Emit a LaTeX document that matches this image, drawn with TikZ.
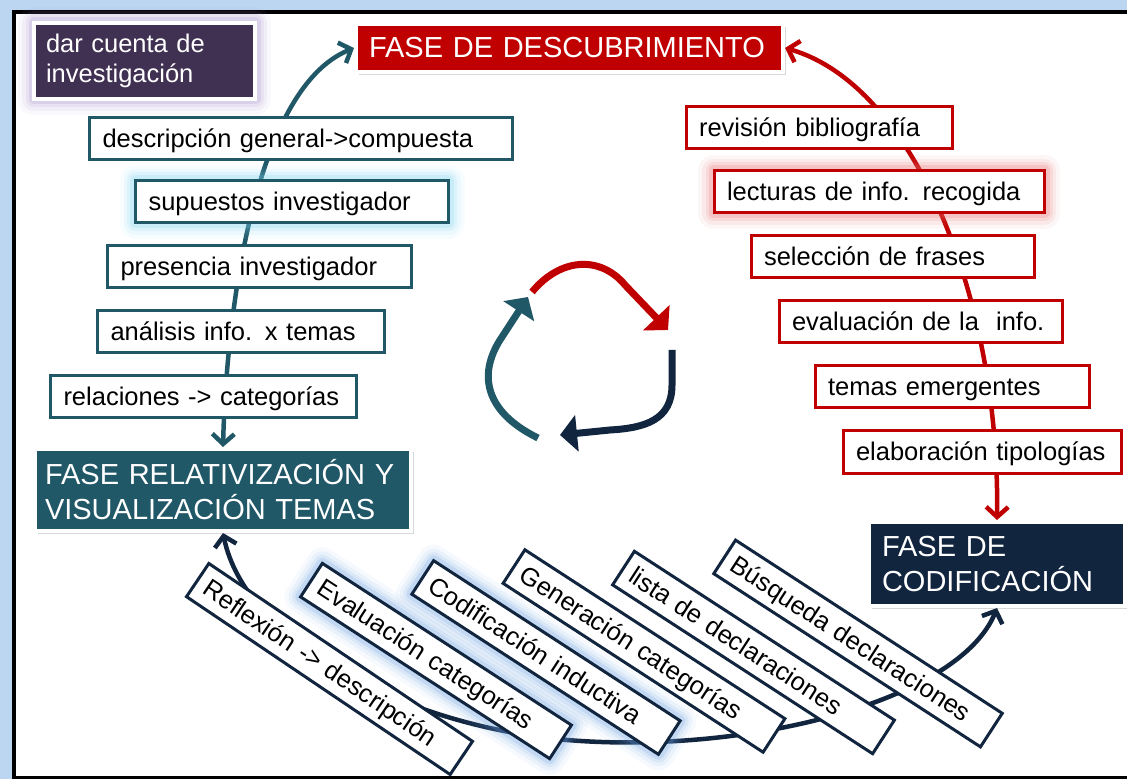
\documentclass[tikz,border=0pt]{standalone}
\usepackage{fontspec}
\setmainfont{Liberation Sans}
\usetikzlibrary{positioning}
\usetikzlibrary{arrows.meta}
\usetikzlibrary{shadows}
\usetikzlibrary{backgrounds}

\definecolor{tealc}{RGB}{33,88,104}
\definecolor{redc}{RGB}{192,0,0}
\definecolor{navyc}{RGB}{17,37,63}
\definecolor{purplec}{RGB}{64,49,82}
\definecolor{frameblue}{RGB}{188,214,242}
\definecolor{glowcyan}{RGB}{120,215,245}
\definecolor{glowred}{RGB}{235,110,110}
\definecolor{glowpurple}{RGB}{165,140,205}
\definecolor{glowblue}{RGB}{110,165,230}

\begin{document}
\begin{tikzpicture}[x=0.5pt,y=-0.5pt,
            phase/.style={draw=white,line width=2pt,text=white,anchor=north west,align=left,
                font=\fontsize{14.5}{17.5}\selectfont},
            lifted/.style={drop shadow={shadow xshift=1.5pt,shadow yshift=-1.5pt,opacity=0.3}},
            lbox/.style={draw=tealc,fill=white,line width=1.5pt,anchor=north west,minimum height=21pt,
                inner xsep=6.5pt,text width=#1,align=left,font=\fontsize{12.75}{15}\selectfont,
                text height=11pt,text depth=2.2pt},
            rbox/.style={lbox=#1,draw=redc},
            tbox/.style={draw=navyc,fill=white,line width=1.5pt,minimum height=20pt,inner xsep=5pt,
                text width=#1,align=left,rotate=-33,font=\fontsize{12.75}{15}\selectfont,
                text height=11pt,text depth=2.2pt},
            glow/.style={preaction={draw=#1,draw opacity=0.06,line width=16pt,line join=round},
                preaction={draw=#1,draw opacity=0.09,line width=12pt,line join=round},
                preaction={draw=#1,draw opacity=0.13,line width=8.5pt,line join=round},
                preaction={draw=#1,draw opacity=0.2,line width=5.5pt,line join=round}},
            cyc/.style={line width=2.25pt,{Straight Barb[length=5pt,width=11pt]}-{Straight Barb[length=5pt,width=11pt]}},
            turn/.style={line width=3.5pt,-{Triangle[length=8.5pt,width=18pt]}}]
            \useasboundingbox (0,0) rectangle (1127,779);

            % fases
            \node[phase,fill=purplec,glow=glowpurple,inner xsep=6pt,text width=98.5pt,minimum height=38pt,
                font=\fontsize{12.75}{15}\selectfont] (dar) at (32,21) {dar cuenta de\\investigación};
            \node[phase,lifted,fill=redc,inner xsep=6.5pt,text width=200.5pt,minimum height=24pt] (desc) at (354,22) {FASE DE DESCUBRIMIENTO};
            \node[phase,lifted,fill=tealc,inner xsep=5pt,text width=178pt,minimum height=41pt] (rel) at (33,447) {FASE RELATIVIZACIÓN Y\\VISUALIZACIÓN TEMAS};
            \node[phase,lifted,fill=navyc,inner xsep=6.5pt,text width=115pt,minimum height=42pt] (cod) at (867,520) {FASE DE\\CODIFICACIÓN};

            % lado izquierdo
            \node[lbox=198.5pt] (a1) at (88,116) {descripción general->compuesta};
            \node[lbox=143.5pt,glow=glowcyan] (a2) at (134,179.5) {supuestos investigador};
            \node[lbox=139pt] (a3) at (106,244.5) {presencia investigador};
            \node[lbox=130.5pt] (a4) at (96,309.5) {análisis info. x temas};
            \node[lbox=140pt] (a5) at (49,374) {relaciones -> categorías};

            % lado derecho
            \node[rbox=120pt] (b1) at (684.5,105.5) {revisión bibliografía};
            \node[rbox=152pt,glow=glowred] (b2) at (712.5,169.5) {lecturas de info. recogida};
            \node[rbox=128.5pt] (b3) at (749.5,234.5) {selección de frases};
            \node[rbox=128.5pt] (b4) at (777.5,299.5) {evaluación de la\ \ info.};
            \node[rbox=124pt] (b5) at (813.5,364.5) {temas emergentes};
            \node[rbox=126pt] (b6) at (841.5,429.5) {elaboración tipologías};

            % abajo
            \node[tbox=138.5pt,glow=glowblue] (c2) at (436,661) {Evaluación categorías};
            \node[tbox=137pt,glow=glowblue] (c3) at (546,657.5) {Codificación inductiva};
            \node[tbox=149pt,rotate=-1] (c1) at (329.5,669) {Reflexión -> descripción};
            \node[tbox=145pt] (c4) at (644,651) {Generación categorías};
            \node[tbox=145pt] (c5) at (753.5,652.5) {lista de declaraciones};
            \node[tbox=149pt] (c6) at (858,643.5) {Búsqueda declaraciones};

            % ciclo central
            \draw[turn,redc] (532,292) .. controls (560,258) and (600,255) .. (625,285) -- (668,330);
            \draw[turn,navyc] (672,350) -- (672,385) .. controls (672,420) and (645,428) .. (610,430) -- (560,435);
            \draw[turn,tealc] (538,438) .. controls (485,412) and (478,375) .. (500,340) -- (528,297);

            \begin{scope}[on background layer]
                \fill[frameblue] (0,0) rectangle (1127,779);
                \fill[white] (14,12) rectangle (1127,779);
                \draw[line width=2pt] (1127,12) -- (14,12) -- (14,777.5) -- (1127,777.5);
                \draw[cyc,tealc] (rel.north) .. controls (226,330) and (250,90) .. (desc.west);
                \draw[cyc,redc] (desc.east) .. controls (915,85) and (1000,300) .. (cod.north);
                \draw[cyc,navyc] (rel.south) .. controls (245,640) and (400,725) .. (567,740)
                    .. controls (750,755) and (960,700) .. (cod.south);
            \end{scope}
        \end{tikzpicture}
\end{document}
